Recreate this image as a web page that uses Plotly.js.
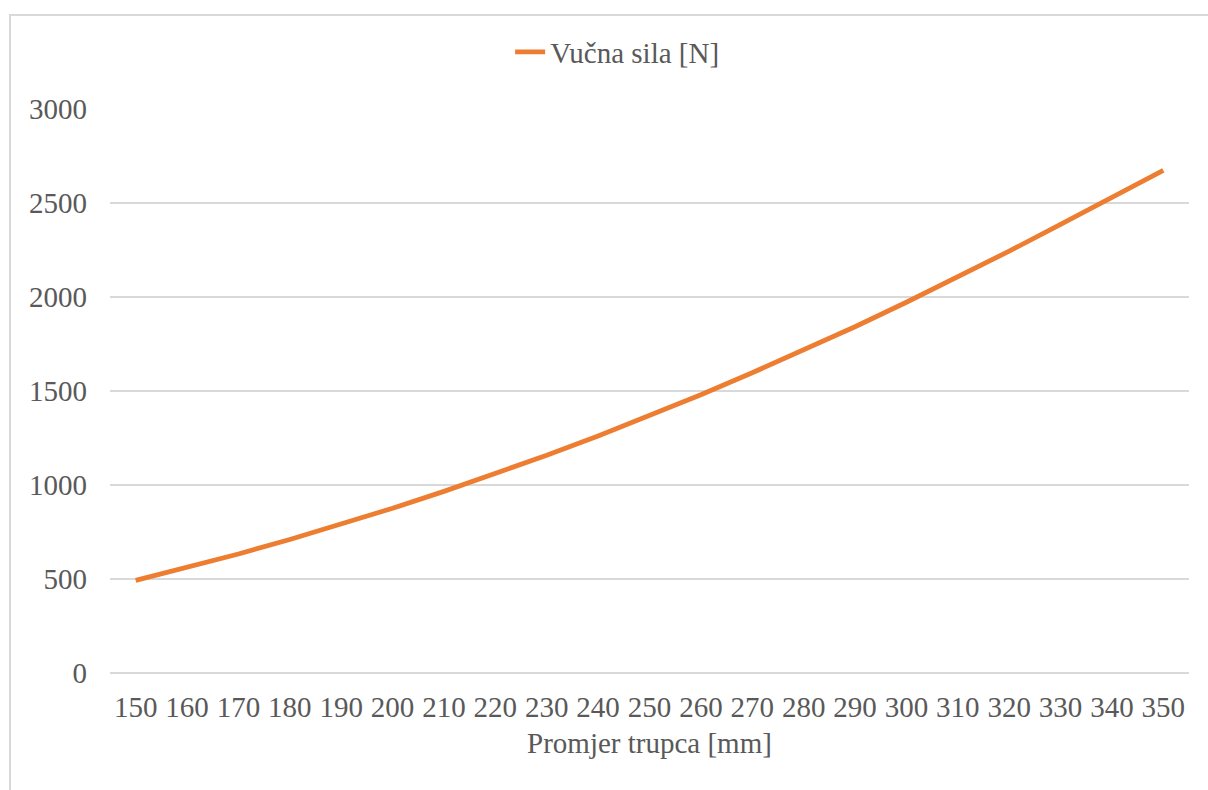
<!DOCTYPE html>
<html>
<head>
<meta charset="utf-8">
<script src="https://cdn.plot.ly/plotly-3.0.1.min.js"></script>
<style>
  html, body { margin: 0; padding: 0; background: #ffffff; overflow: hidden; }
  #frame { position: absolute; left: 9px; top: 14px; width: 1400px; height: 1000px;
           border: 2px solid #d9d9d9; box-sizing: border-box; }
  #chart { position: absolute; left: 0; top: 0; width: 1208px; height: 790px; }
</style>
</head>
<body>
<div id="frame"></div>
<div id="chart"></div>
<script>
const categories = [150, 160, 170, 180, 190, 200, 210, 220, 230, 240, 250,
                    260, 270, 280, 290, 300, 310, 320, 330, 340, 350];
const vucnaSila = [493, 561, 633, 710, 791, 876, 966, 1060, 1158, 1261, 1369,
                   1480, 1597, 1717, 1842, 1972, 2105, 2244, 2386, 2533, 2674];
const seriesName = 'Vučna sila [N]';
const xTitle = 'Promjer trupca [mm]';
const yTicks = [0, 500, 1000, 1500, 2000, 2500, 3000];

const textColor = '#595959';
const fontFamily = 'Liberation Serif';
const fontSize = 29;

const trace = {
  x: categories.map(String),
  y: vucnaSila,
  type: 'scatter',
  mode: 'lines',
  name: seriesName,
  line: { color: '#ED7D31', width: 4.8 },
  showlegend: true
};

const layout = {
  width: 1208,
  height: 790,
  margin: { l: 110, r: 19, t: 109, b: 117 },
  paper_bgcolor: 'rgba(0,0,0,0)',
  plot_bgcolor: 'rgba(0,0,0,0)',
  font: { family: fontFamily, size: fontSize, color: textColor },
  showlegend: true,
  legend: {
    orientation: 'h',
    x: 0.47, xanchor: 'center',
    y: 1.101, yanchor: 'middle',
    bgcolor: 'rgba(0,0,0,0)',
    font: { family: fontFamily, size: fontSize, color: textColor }
  },
  xaxis: {
    type: 'category',
    range: [-0.5, categories.length - 0.5],
    showgrid: false,
    zeroline: false,
    showline: false,
    ticks: '',
    ticklabelstandoff: 14,
    tickfont: { family: fontFamily, size: fontSize, color: textColor },
    title: { text: xTitle, standoff: 10, font: { family: fontFamily, size: fontSize, color: textColor } },
    automargin: false,
    fixedrange: true
  },
  yaxis: {
    range: [0, 3000],
    tickvals: yTicks,
    ticktext: yTicks.map(String),
    showgrid: true,
    gridcolor: '#d9d9d9',
    gridwidth: 1.5,
    zeroline: true,
    zerolinecolor: '#d9d9d9',
    zerolinewidth: 1.5,
    showline: false,
    ticks: '',
    ticklabelstandoff: 22,
    tickfont: { family: fontFamily, size: fontSize, color: textColor },
    automargin: false,
    fixedrange: true
  }
};

Plotly.newPlot('chart', [trace], layout, { displayModeBar: false, staticPlot: true });
</script>
</body>
</html>
